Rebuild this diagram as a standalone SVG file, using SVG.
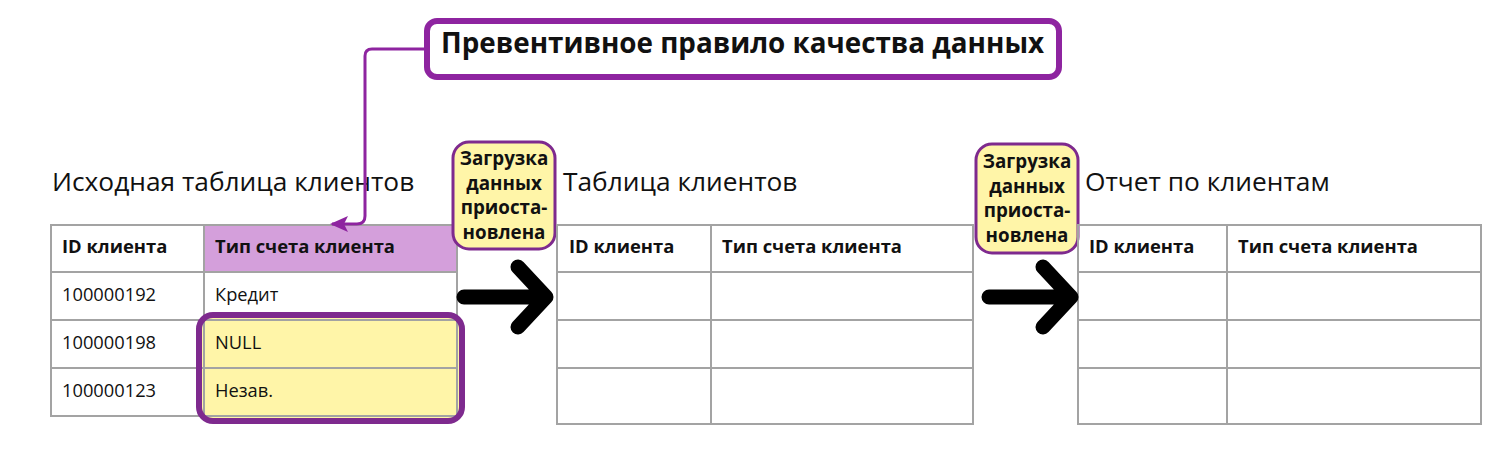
<svg xmlns="http://www.w3.org/2000/svg" width="1508" height="452" viewBox="0 0 1508 452">
<defs>
<style>
text{font-family:"Open Sans","Noto Sans","Liberation Sans",sans-serif;fill:#111}
.ttl{font-size:26.3px}
.hd{font-size:18.4px;font-weight:bold}
.cell{font-size:18.3px}
.lbl{font-size:18.8px;font-weight:bold;text-anchor:middle}
.grid{fill:none;stroke:#a3a3a3;stroke-width:2}
.stop{fill:#fff5a8;stroke:#7e2a8e;stroke-width:3}
.arrow{fill:none;stroke:#000;stroke-width:15;stroke-linecap:round;stroke-linejoin:round}
</style>
<marker id="ah" viewBox="0 0 18 16" refX="16" refY="8" markerWidth="18" markerHeight="16" markerUnits="userSpaceOnUse" orient="auto">
<path d="M0,0 L18,8 L0,16 L4,8 z" fill="#8e24a0"/>
</marker>
</defs>
<rect width="1508" height="452" fill="#fff"/>

<g id="rule">
<rect x="427" y="21" width="632" height="56" rx="10" fill="#fff" stroke="#8e24a0" stroke-width="6"/>
<text x="441" y="53" style="font-size:27.8px;font-weight:bold">Превентивное правило качества данных</text>
</g>

<g id="table1">
<text class="ttl" x="52" y="191">Исходная таблица клиентов</text>
<rect x="204" y="225" width="253" height="47" fill="#d49fdb"/>
<rect x="199" y="315" width="263" height="106" rx="14" fill="#fff5a8"/>
<rect class="grid" x="51" y="225" width="406" height="191"/>
<path class="grid" d="M204,225 V416 M51,272 H457 M51,320 H457 M51,368 H457"/>
<text class="hd" x="62" y="253">ID клиента</text>
<text class="hd" x="215" y="253">Тип счета клиента</text>
<text class="cell" x="62" y="301">100000192</text>
<text class="cell" x="215" y="301">Кредит</text>
<text class="cell" x="62" y="349">100000198</text>
<text class="cell" x="215" y="349">NULL</text>
<text class="cell" x="62" y="397">100000123</text>
<text class="cell" x="215" y="397">Незав.</text>
<rect x="199" y="315" width="263" height="106" rx="14" fill="none" stroke="#7e2a8e" stroke-width="6"/>
</g>

<g id="stop1">
<rect class="stop" x="453" y="142" width="102" height="107" rx="16"/>
<text class="lbl" x="504" y="165">Загрузка</text>
<text class="lbl" x="504" y="190">данных</text>
<text class="lbl" x="504" y="214">приоста-</text>
<text class="lbl" x="504" y="239">новлена</text>
</g>

<g id="table2">
<text class="ttl" x="563" y="191">Таблица клиентов</text>
<rect class="grid" x="557" y="225" width="416" height="199"/>
<path class="grid" d="M711,225 V424 M557,272 H973 M557,320 H973 M557,368 H973"/>
<text class="hd" x="569" y="253">ID клиента</text>
<text class="hd" x="722" y="253">Тип счета клиента</text>
</g>

<g id="stop2">
<rect class="stop" x="976" y="144" width="102" height="109" rx="16"/>
<text class="lbl" x="1027" y="168">Загрузка</text>
<text class="lbl" x="1027" y="193">данных</text>
<text class="lbl" x="1027" y="217">приоста-</text>
<text class="lbl" x="1027" y="242">новлена</text>
</g>

<g id="table3">
<text class="ttl" x="1085" y="191">Отчет по клиентам</text>
<rect class="grid" x="1078" y="225" width="403" height="199"/>
<path class="grid" d="M1227,225 V424 M1078,272 H1481 M1078,320 H1481 M1078,368 H1481"/>
<text class="hd" x="1089" y="253">ID клиента</text>
<text class="hd" x="1238" y="253">Тип счета клиента</text>
</g>

<g id="connectors">
<path d="M424,49 H372 Q365,49 365,56 V216 Q365,224 357,224 H332" fill="none" stroke="#8e24a0" stroke-width="3" marker-end="url(#ah)"/>
<path class="arrow" d="M464,297 H546 M518,267 L546,297 L518,327"/>
<path class="arrow" d="M989,297 H1071 M1043,267 L1071,297 L1043,327"/>
</g>
</svg>
